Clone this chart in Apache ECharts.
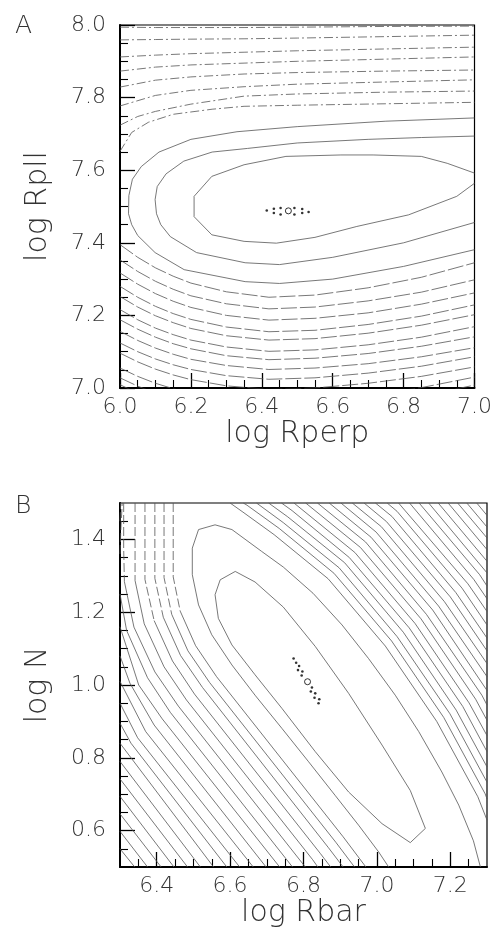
<!DOCTYPE html>
<html><head><meta charset="utf-8">
<script src="https://cdn.jsdelivr.net/npm/echarts@6/dist/echarts.min.js"></script>
<style>html,body{margin:0;padding:0;background:#fff}#c{width:495px;height:936px}</style>
</head><body><div id="c"></div>
<script>
// ---------- tick labels ----------
const xMajorA = [6.0, 6.2, 6.4, 6.6, 6.8, 7.0];
const yMajorA = [7.0, 7.2, 7.4, 7.6, 7.8, 8.0];
const xMinorA = [6.05,6.1,6.15,6.25,6.3,6.35,6.45,6.5,6.55,6.65,6.7,6.75,6.85,6.9,6.95];
const yMinorA = [7.05,7.1,7.15,7.25,7.3,7.35,7.45,7.5,7.55,7.65,7.7,7.75,7.85,7.9,7.95];
const xMajorB = [6.4, 6.6, 6.8, 7.0, 7.2];
const yMajorB = [0.6, 0.8, 1.0, 1.2, 1.4];
const xMinorB = [6.35,6.45,6.5,6.55,6.65,6.7,6.75,6.85,6.9,6.95,7.05,7.1,7.15,7.25];
const yMinorB = [0.55,0.65,0.7,0.75,0.85,0.9,0.95,1.05,1.1,1.15,1.25,1.3,1.35,1.45];

// ---------- panel A contours (log Rperp, log Rpll) ----------
const A_L1 = [[6.0,7.994],[6.1,7.993],[6.2,7.993],[6.35,7.993],[6.5,7.994],[6.75,7.996],[7.0,7.997]];
const A_L2 = [[6.0,7.959],[6.1,7.960],[6.2,7.961],[6.35,7.962],[6.5,7.964],[6.75,7.968],[7.0,7.972]];
const A_L3 = [[6.0,7.912],[6.1,7.917],[6.2,7.921],[6.35,7.925],[6.5,7.929],[6.75,7.934],[7.0,7.939]];
const A_L4 = [[6.0,7.873],[6.1,7.884],[6.2,7.890],[6.35,7.895],[6.5,7.900],[6.75,7.906],[7.0,7.912]];
const A_L5 = [[6.0,7.829],[6.1,7.848],[6.2,7.857],[6.35,7.865],[6.5,7.869],[6.75,7.873],[7.0,7.876]];
const A_L6 = [[6.0,7.777],[6.1,7.806],[6.2,7.820],[6.35,7.830],[6.5,7.837],[6.75,7.843],[7.0,7.849]];
const A_L7 = [[6.0,7.724],[6.05,7.748],[6.1,7.762],[6.2,7.782],[6.35,7.804],[6.5,7.810],[6.75,7.815],[7.0,7.818]];
const A_C4top = [[6.0,7.652],[6.033,7.704],[6.08,7.732],[6.15,7.754],[6.26,7.768],[6.35,7.776],[6.5,7.779],[6.75,7.783],[7.0,7.787]];
const A_C3 = [[7.0,7.744],[6.75,7.735],[6.5,7.72],[6.33,7.706],[6.2,7.685],[6.11,7.65],[6.06,7.61],[6.035,7.575],[6.025,7.53],[6.024,7.48],[6.033,7.45],[6.05,7.42],[6.099,7.373],[6.181,7.326],[6.353,7.293],[6.45,7.288],[6.6,7.30],[6.8,7.335],[7.0,7.381]];
const A_C2 = [[7.0,7.694],[6.85,7.69],[6.7,7.685],[6.5,7.675],[6.36,7.66],[6.26,7.65],[6.18,7.625],[6.13,7.59],[6.105,7.555],[6.099,7.519],[6.103,7.48],[6.115,7.45],[6.142,7.417],[6.216,7.373],[6.353,7.345],[6.45,7.34],[6.6,7.36],[6.8,7.40],[7.0,7.456]];
const A_C1 = [[7.0,7.592],[6.923,7.619],[6.85,7.638],[6.714,7.642],[6.623,7.642],[6.468,7.638],[6.35,7.615],[6.259,7.583],[6.209,7.528],[6.209,7.472],[6.259,7.422],[6.35,7.404],[6.441,7.399],[6.55,7.415],[6.668,7.445],[6.814,7.477],[6.95,7.528],[7.0,7.564]];
const A_C4bot = [[6.0,7.395],[6.05,7.360],[6.1,7.331],[6.15,7.308],[6.2,7.289],[6.3,7.265],[6.42,7.25],[6.55,7.256],[6.7,7.276],[6.85,7.305],[7.0,7.345]];
// lower family, sampled at shared x positions
const A_lowX = [6.0,6.05,6.1,6.15,6.2,6.3,6.42,6.55,6.7,6.85,7.0];
const A_P1  = [7.353,7.321,7.294,7.272,7.254,7.232,7.218,7.223,7.240,7.264,7.298];
const A_P2  = [7.317,7.286,7.260,7.239,7.222,7.200,7.187,7.192,7.207,7.231,7.262];
const A_P3  = [7.280,7.250,7.225,7.205,7.189,7.168,7.155,7.159,7.175,7.198,7.229];
const A_P4  = [7.252,7.223,7.199,7.180,7.164,7.144,7.132,7.136,7.151,7.173,7.202];
const A_P5  = [7.216,7.188,7.165,7.147,7.132,7.113,7.101,7.105,7.119,7.140,7.169];
const A_P6  = [7.188,7.162,7.140,7.122,7.108,7.089,7.078,7.082,7.095,7.115,7.141];
const A_P7  = [7.156,7.131,7.110,7.093,7.079,7.062,7.051,7.055,7.067,7.086,7.111];
const A_P8  = [7.124,7.100,7.080,7.064,7.051,7.034,7.024,7.028,7.041,7.060,7.086];
const A_P9  = [7.096,7.072,7.052,7.036,7.023,7.006,6.996,7.000,7.013,7.032,7.058];
const A_P10 = [7.055,7.032,7.013,6.998,6.986,6.970,6.960,6.964,6.979,7.001,7.030];
const A_P11 = [7.028,7.005,6.986,6.971,6.959,6.943,6.933,6.938,6.953,6.977,7.008];
const A_P12 = [7.009,6.986,6.967,6.951,6.939,6.923,6.914,6.919,6.934,6.958,6.989];
const A_best = [[6.475,7.488]];
const A_dots = [[6.414,7.489],[6.434,7.494],[6.434,7.482],[6.453,7.496],[6.453,7.478],[6.492,7.496],[6.492,7.478],[6.514,7.493],[6.514,7.482],[6.532,7.485]];

// ---------- panel B contours (log Rbar, log N) ----------
const B_C1 = [[6.614,1.312],[6.668,1.283],[6.745,1.214],[6.832,1.106],[6.923,0.977],[7.014,0.835],[7.091,0.710],[7.132,0.606],[7.091,0.567],[7.014,0.619],[6.923,0.706],[6.832,0.817],[6.741,0.936],[6.668,1.028],[6.605,1.110],[6.568,1.183],[6.559,1.248],[6.573,1.289],[6.614,1.312]];
const B_C2 = [[7.032,0.5],[7.005,0.541],[6.95,0.615],[6.886,0.697],[6.814,0.789],[6.741,0.881],[6.668,0.972],[6.605,1.055],[6.55,1.138],[6.514,1.220],[6.497,1.303],[6.497,1.376],[6.514,1.427],[6.559,1.440],[6.605,1.427],[6.686,1.367],[6.745,1.324],[6.826,1.252],[6.905,1.165],[6.977,1.073],[7.05,0.972],[7.114,0.872],[7.177,0.761],[7.223,0.670],[7.263,0.572],[7.282,0.5]];
const B_C3L = [[6.445,1.5],[6.445,1.376],[6.445,1.297],[6.464,1.203],[6.506,1.108],[6.563,1.023],[6.908,0.583],[6.97,0.5]];
const B_C3R = [[6.6,1.5],[6.635,1.475],[6.72,1.413],[6.867,1.292],[7.023,1.107],[7.163,0.9],[7.275,0.693],[7.3,0.629]];
const B_U0a = [[6.636,1.5],[6.646,1.494],[6.734,1.430],[6.883,1.307],[7.04,1.121],[7.182,0.911],[7.295,0.701],[7.3,0.687]];
const B_U0b = [[6.672,1.5],[6.745,1.446],[6.897,1.322],[7.055,1.133],[7.199,0.921],[7.3,0.733]];
const B_U1 = [[6.705,1.5],[6.757,1.462],[6.912,1.336],[7.072,1.145],[7.216,0.931],[7.3,0.775]];
const B_U2 = [[6.740,1.5],[6.769,1.479],[6.925,1.350],[7.088,1.157],[7.234,0.941],[7.3,0.817]];
const B_U3 = [[6.774,1.5],[6.940,1.364],[7.104,1.169],[7.251,0.951],[7.3,0.861]];
const B_U4 = [[6.806,1.5],[6.955,1.378],[7.120,1.182],[7.269,0.961],[7.3,0.903]];
const B_U5 = [[6.838,1.5],[6.969,1.393],[7.135,1.194],[7.286,0.972],[7.3,0.945]];
const B_U6 = [[6.870,1.5],[6.984,1.406],[7.152,1.206],[7.3,0.985]];
const B_U7 = [[6.902,1.5],[6.998,1.420],[7.168,1.217],[7.3,1.023]];
const B_U8 = [[6.933,1.5],[7.012,1.435],[7.184,1.229],[7.3,1.059]];
const B_U9 = [[6.965,1.5],[7.026,1.449],[7.2,1.242],[7.3,1.094]];
const B_U10 = [[6.996,1.5],[7.041,1.463],[7.215,1.254],[7.3,1.129]];
const B_U11 = [[7.028,1.5],[7.055,1.477],[7.232,1.266],[7.3,1.165]];
const B_U12 = [[7.059,1.5],[7.248,1.278],[7.3,1.202]];
const B_U13 = [[7.089,1.5],[7.264,1.290],[7.3,1.237]];
const B_U14 = [[7.115,1.5],[7.280,1.303],[7.3,1.272]];
const B_U15 = [[7.141,1.5],[7.3,1.308]];
const B_U16 = [[7.167,1.5],[7.3,1.340]];
const B_U17 = [[7.194,1.5],[7.3,1.372]];
const B_U18 = [[7.220,1.5],[7.3,1.404]];
const B_U19 = [[7.245,1.5],[7.3,1.434]];
const B_U20 = [[7.272,1.5],[7.3,1.466]];
const B_L1 = [[6.42,1.5],[6.42,1.376],[6.42,1.295],[6.441,1.194],[6.485,1.094],[6.544,1.007],[6.888,0.568],[6.939,0.5]];
const B_L2 = [[6.395,1.5],[6.395,1.376],[6.395,1.293],[6.418,1.186],[6.465,1.081],[6.525,0.993],[6.868,0.553],[6.908,0.5]];
const B_L3 = [[6.368,1.5],[6.368,1.376],[6.368,1.29],[6.393,1.177],[6.443,1.066],[6.503,0.975],[6.846,0.537],[6.874,0.5]];
const B_L4 = [[6.341,1.5],[6.341,1.376],[6.341,1.287],[6.366,1.168],[6.42,1.05],[6.481,0.959],[6.825,0.52],[6.839,0.5]];
const B_L5 = [[6.31,1.5],[6.31,1.376],[6.312,1.284],[6.338,1.159],[6.395,1.036],[6.459,0.942],[6.805,0.5]];
const B_L6 = [[6.3,1.25],[6.318,1.150],[6.375,1.020],[6.437,0.925],[6.77,0.5]];
const B_L7 = [[6.3,1.16],[6.351,1.0],[6.415,0.907],[6.735,0.5]];
const B_L8 = [[6.3,1.08],[6.327,1.005],[6.393,0.890],[6.698,0.5]];
const B_L9 = [[6.3,1.01],[6.37,0.872],[6.663,0.5]];
const B_L10 = [[6.3,0.95],[6.348,0.855],[6.626,0.5]];
const B_L11 = [[6.3,0.895],[6.33,0.84],[6.591,0.5]];
const B_L12 = [[6.3,0.84],[6.555,0.5]];
const B_L13 = [[6.3,0.79],[6.519,0.5]];
const B_L14 = [[6.3,0.742],[6.484,0.5]];
const B_L15 = [[6.3,0.694],[6.447,0.5]];
const B_L16 = [[6.3,0.646],[6.412,0.5]];
const B_L17 = [[6.3,0.598],[6.375,0.5]];
const B_L18 = [[6.3,0.55],[6.34,0.5]];
const B_corner1 = [[6.3,1.36],[6.302,1.42],[6.306,1.5]];
const B_corner2 = [[6.3,1.45],[6.302,1.5]];
const B_best = [[6.811,1.009]];
const B_dots = [[6.773,1.073],[6.78,1.061],[6.788,1.052],[6.785,1.041],[6.797,1.037],[6.795,1.026],[6.823,0.993],[6.82,0.982],[6.832,0.977],[6.83,0.965],[6.843,0.961],[6.841,0.95]];

// ---------- styling & assembly ----------
const FONT = 'DejaVu Sans';
const LINE_COLOR = '#555';
const DASH_DOT = [9, 3, 2, 3];
const LONG_DASH = [16, 3];
const LONG_DASH2 = [9, 3];

const series = [];
function addLine(data, panel, dash) {
  series.push({
    type: 'line', xAxisIndex: panel * 2, yAxisIndex: panel * 2, data: data,
    symbol: 'none', silent: true, animation: false, clip: true, z: 2,
    lineStyle: { color: LINE_COLOR, width: 0.8, type: dash || 'solid' }
  });
}
// dashed above a cut level, solid below it (style only)
function addSplit(data, panel, yCut, dash) {
  let k = data.findIndex(p => p[1] < yCut);
  if (k < 1) { addLine(data, panel, dash); return; }
  addLine(data.slice(0, k + 1), panel, dash);
  addLine(data.slice(k), panel, 'solid');
}
[A_L1, A_L2, A_L3, A_L4, A_L5, A_L6, A_L7, A_C4top].forEach(d => addLine(d, 0, DASH_DOT));
[A_C3, A_C2, A_C1].forEach(d => addLine(d, 0, 'solid'));
addLine(A_C4bot, 0, LONG_DASH);
[A_P1, A_P2, A_P3, A_P4, A_P5, A_P6, A_P7, A_P8, A_P9, A_P10, A_P11, A_P12]
  .forEach(ys => addLine(A_lowX.map((x, i) => [x, ys[i]]), 0, LONG_DASH));

[B_C1, B_C2, B_C3R].forEach(d => addLine(d, 1, 'solid'));
[B_C3L, B_L1, B_L2, B_L3, B_L4, B_L5].forEach(d => addSplit(d, 1, 1.29, LONG_DASH2));
[B_corner1, B_corner2].forEach(d => addLine(d, 1, LONG_DASH2));
[B_U0a, B_U0b, B_U1, B_U2, B_U3, B_U4, B_U5, B_U6, B_U7, B_U8, B_U9, B_U10, B_U11, B_U12, B_U13, B_U14, B_U15, B_U16, B_U17, B_U18, B_U19, B_U20]
  .forEach(d => addLine(d, 1, 'solid'));
[B_L6, B_L7, B_L8, B_L9, B_L10, B_L11, B_L12, B_L13, B_L14, B_L15, B_L16, B_L17, B_L18]
  .forEach(d => addLine(d, 1, 'solid'));

function addMarks(best, dots, panel) {
  series.push({ type: 'scatter', xAxisIndex: panel * 2, yAxisIndex: panel * 2, data: dots,
    symbol: 'circle', symbolSize: 2.6, itemStyle: { color: '#000' }, silent: true, animation: false, z: 5 });
  series.push({ type: 'scatter', xAxisIndex: panel * 2, yAxisIndex: panel * 2, data: best,
    symbol: 'circle', symbolSize: 6, itemStyle: { color: '#fff', borderColor: '#000', borderWidth: 1 }, silent: true, animation: false, z: 6 });
}
addMarks(A_best, A_dots, 0);
addMarks(B_best, B_dots, 1);

const labelStyle = { fontSize: 22, color: '#333', fontFamily: FONT, fontWeight: 300 };
const nameStyle = { fontSize: 30, color: '#333', fontFamily: FONT, fontWeight: 300 };
function majorAxis(grid, min, max, ticks, name, gap, isY) {
  return {
    type: 'value', gridIndex: grid, min: min, max: max, position: isY ? 'left' : 'bottom',
    name: name, nameLocation: 'middle', nameGap: gap, nameTextStyle: nameStyle,
    axisLine: { show: true, onZero: false, lineStyle: { color: '#000', width: 2 } },
    axisTick: { show: true, inside: true, length: 15, customValues: ticks, lineStyle: { color: '#000', width: 1.3 } },
    axisLabel: { show: true, customValues: ticks, margin: isY ? 14 : 8, formatter: v => v.toFixed(1), ...labelStyle },
    splitLine: { show: false }, minorTick: { show: false }
  };
}
function minorAxis(grid, min, max, ticks, isY) {
  return {
    type: 'value', gridIndex: grid, min: min, max: max, position: isY ? 'left' : 'bottom',
    axisLine: { show: false, onZero: false },
    axisTick: { show: true, inside: true, length: 8, customValues: ticks, lineStyle: { color: '#000', width: 1.1 } },
    axisLabel: { show: false }, splitLine: { show: false }
  };
}

const option = {
  animation: false,
  backgroundColor: '#fff',
  title: [
    { text: 'A', left: 10, top: 9, textStyle: { fontSize: 25, fontWeight: 300, color: '#333', fontFamily: FONT } },
    { text: 'B', left: 10, top: 489, textStyle: { fontSize: 25, fontWeight: 300, color: '#333', fontFamily: FONT } }
  ],
  grid: [
    { left: 120, right: 8, top: 25, height: 363, show: true, borderColor: '#000', borderWidth: 1.2, backgroundColor: 'transparent' },
    { left: 120, right: 8, top: 503, height: 364, show: true, borderColor: '#000', borderWidth: 1.2, backgroundColor: 'transparent' }
  ],
  xAxis: [
    majorAxis(0, 6.0, 7.0, xMajorA, 'log Rperp', 27, false),
    minorAxis(0, 6.0, 7.0, xMinorA, false),
    majorAxis(1, 6.3, 7.3, xMajorB, 'log Rbar', 28, false),
    minorAxis(1, 6.3, 7.3, xMinorB, false)
  ],
  yAxis: [
    majorAxis(0, 7.0, 8.0, yMajorA, 'log Rpll', 67, true),
    minorAxis(0, 7.0, 8.0, yMinorA, true),
    majorAxis(1, 0.5, 1.5, yMajorB, 'log N', 67, true),
    minorAxis(1, 0.5, 1.5, yMinorB, true)
  ],
  series: series
};
const chart = echarts.init(document.getElementById('c'), null, { renderer: 'canvas' });
chart.setOption(option);
</script></body></html>
